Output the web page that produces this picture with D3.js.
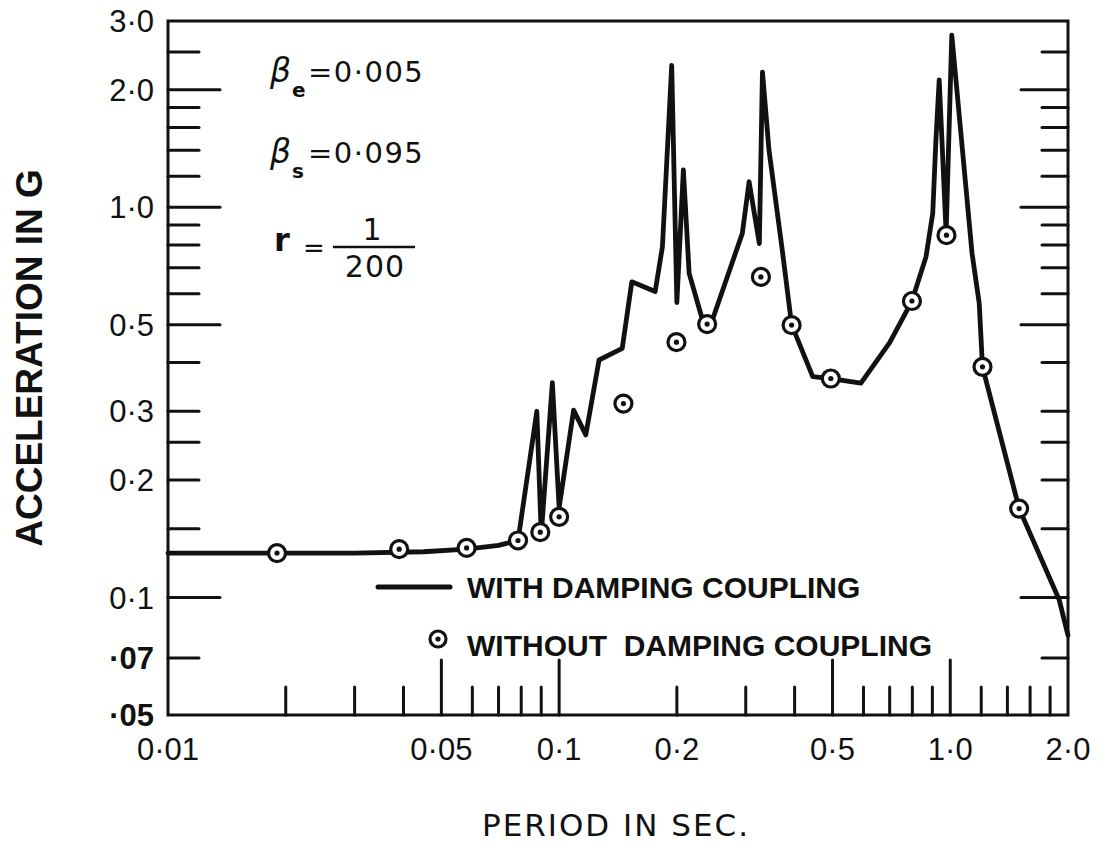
<!DOCTYPE html>
<html><head><meta charset="utf-8">
<script src="https://cdn.jsdelivr.net/npm/d3@7"></script>
<style>
html,body{margin:0;padding:0;background:#fff;}
svg{display:block;}
</style></head>
<body>
<svg id="chart" width="1107" height="854"></svg>
<script>
// ---- data ----
const withPeriod = [0.01,0.03,0.045,0.058,0.07,0.0785,0.0877,0.0900,0.0961,0.1000,0.1089,0.117,0.1265,0.145,0.1534,0.176,0.1837,0.194,0.2000,0.2078,0.215,0.2326,0.245,0.294,0.306,0.325,0.331,0.344,0.372,0.393,0.445,0.495,0.591,0.70,0.798,0.867,0.902,0.919,0.937,0.976,1.009,1.137,1.186,1.209,1.50,1.90,2.0];
const withAccel  = [0.130,0.130,0.131,0.133,0.136,0.140,0.300,0.145,0.355,0.170,0.302,0.261,0.406,0.435,0.644,0.608,0.792,2.31,0.570,1.246,0.677,0.514,0.505,0.857,1.162,0.807,2.22,1.40,0.776,0.500,0.368,0.364,0.354,0.45,0.575,0.747,0.964,1.486,2.12,0.86,2.76,0.761,0.567,0.390,0.169,0.0985,0.080];
const withoutPeriod = [0.019,0.039,0.058,0.0785,0.0895,0.100,0.146,0.1995,0.239,0.328,0.393,0.495,0.798,0.978,1.209,1.50];
const withoutAccel  = [0.130,0.133,0.134,0.140,0.147,0.161,0.314,0.451,0.502,0.663,0.499,0.364,0.575,0.848,0.390,0.169];

const xLabelValues = [0.01,0.05,0.1,0.2,0.5,1.0,2.0];
const xLabelTexts  = ["0·01","0·05","0·1","0·2","0·5","1·0","2·0"];
const xMajorTicks  = [0.05,0.1,0.5,1.0];
const xMinorTicks  = [0.02,0.03,0.04,0.06,0.07,0.08,0.09,0.2,0.3,0.4,0.6,0.7,0.8,0.9,1.2,1.4,1.6,1.8];

const yLabelValues = [3.0,2.0,1.0,0.5,0.3,0.2,0.1,0.07,0.05];
const yLabelTexts  = ["3·0","2·0","1·0","0·5","0·3","0·2","0·1","·07","·05"];
const yMajorTicks  = [0.1,0.5,1.0,2.0];
const yMinorTicks  = [0.07,0.15,0.2,0.25,0.3,0.4,0.6,0.7,0.8,0.9,1.2,1.4,1.6,1.8,2.5];

// ---- drawing ----
const svg = d3.select("#chart");
const x = d3.scaleLog().domain([0.01, 2.0]).range([168, 1068]);
const y = d3.scaleLog().domain([0.05, 3.0]).range([715, 21]);
const ink = "#111";

const x0 = x.range()[0], x1 = x.range()[1], y0 = y.range()[0], y1 = y.range()[1];

// frame
svg.append("rect").attr("x", x0).attr("y", y1).attr("width", x1 - x0).attr("height", y0 - y1)
  .attr("fill", "none").attr("stroke", ink).attr("stroke-width", 3);

const g = svg.append("g").attr("stroke", ink).attr("stroke-width", 3).attr("stroke-linecap", "round");
// x ticks (upward from bottom)
g.selectAll(".xmaj").data(xMajorTicks).join("line")
  .attr("x1", d => x(d)).attr("x2", d => x(d)).attr("y1", y0).attr("y2", y0 - 55);
g.selectAll(".xmin").data(xMinorTicks).join("line")
  .attr("x1", d => x(d)).attr("x2", d => x(d)).attr("y1", y0).attr("y2", y0 - 28);
// left y ticks
g.selectAll(".ylmaj").data(yMajorTicks).join("line")
  .attr("y1", d => y(d)).attr("y2", d => y(d)).attr("x1", x0).attr("x2", x0 + 52);
g.selectAll(".ylmin").data(yMinorTicks).join("line")
  .attr("y1", d => y(d)).attr("y2", d => y(d)).attr("x1", x0).attr("x2", x0 + 31);
// right y ticks
g.selectAll(".yrmaj").data(yMajorTicks).join("line")
  .attr("y1", d => y(d)).attr("y2", d => y(d)).attr("x1", x1).attr("x2", x1 - 47);
g.selectAll(".yrmin").data(yMinorTicks).join("line")
  .attr("y1", d => y(d)).attr("y2", d => y(d)).attr("x1", x1).attr("x2", x1 - 26);

// tick labels
svg.selectAll(".xl").data(xLabelValues).join("text")
  .attr("x", d => x(d)).attr("y", 760)
  .attr("text-anchor", "middle")
  .attr("font-family", "Liberation Sans, Arial, sans-serif").attr("font-size", 31)
  .attr("fill", ink)
  .text((d, i) => xLabelTexts[i]);
svg.selectAll(".yl").data(yLabelValues).join("text")
  .attr("x", 154).attr("y", d => y(d) + 11)
  .attr("text-anchor", "end")
  .attr("font-family", "Liberation Sans, Arial, sans-serif").attr("font-size", 31)
  .attr("fill", ink)
  .attr("font-weight", (d) => d < 0.1 ? "bold" : "normal")
  .text((d, i) => yLabelTexts[i]);

// axis titles
svg.append("text").attr("x", 616).attr("y", 836).attr("text-anchor", "middle")
  .attr("font-family", "DejaVu Sans, sans-serif").attr("font-size", 31).attr("letter-spacing", 2)
  .attr("fill", ink).text("PERIOD IN SEC.");
svg.append("text").attr("transform", "translate(42,358) rotate(-90)").attr("text-anchor", "middle")
  .attr("font-family", "Liberation Sans, Arial, sans-serif").attr("font-size", 37).attr("font-weight", "bold")
  .attr("fill", ink).text("ACCELERATION IN G");

// series: with damping coupling (line)
const withData = withPeriod.map((p, i) => [p, withAccel[i]]);
const line = d3.line().x(d => x(d[0])).y(d => y(d[1]));
svg.append("path").datum(withData).attr("d", line)
  .attr("fill", "none").attr("stroke", ink).attr("stroke-width", 4.8)
  .attr("stroke-linejoin", "round").attr("stroke-linecap", "round");

// series: without damping coupling (circled dots)
const withoutData = withoutPeriod.map((p, i) => [p, withoutAccel[i]]);
const mk = svg.selectAll(".mk").data(withoutData).join("g")
  .attr("transform", d => `translate(${x(d[0])},${y(d[1])})`);
mk.append("circle").attr("r", 8.5).attr("fill", "#fff").attr("stroke", ink).attr("stroke-width", 3.2);
mk.append("circle").attr("r", 2.6).attr("fill", ink);

// legend
svg.append("line").attr("x1", 378).attr("x2", 450).attr("y1", 587).attr("y2", 587)
  .attr("stroke", ink).attr("stroke-width", 5).attr("stroke-linecap", "round");
svg.append("text").attr("x", 467).attr("y", 598)
  .attr("font-family", "Liberation Sans, Arial, sans-serif").attr("font-size", 30).attr("font-weight", "bold")
  .attr("fill", ink).text("WITH DAMPING COUPLING");
const lm = svg.append("g").attr("transform", "translate(438,639)");
lm.append("circle").attr("r", 8).attr("fill", "#fff").attr("stroke", ink).attr("stroke-width", 3.2);
lm.append("circle").attr("r", 2.6).attr("fill", ink);
svg.append("text").attr("x", 467).attr("y", 656).attr("xml:space", "preserve")
  .style("white-space", "pre")
  .attr("font-family", "Liberation Sans, Arial, sans-serif").attr("font-size", 30).attr("font-weight", "bold")
  .attr("fill", ink).text("WITHOUT  DAMPING COUPLING");

// annotations
const af = "DejaVu Sans, sans-serif";
function beta(xp, yb, sub, rest) {
  svg.append("text").attr("x", xp).attr("y", yb).attr("font-family", af).attr("font-size", 33)
    .attr("font-style", "italic").attr("fill", ink).text("β");
  svg.append("text").attr("x", xp + 22).attr("y", yb + 15).attr("font-family", af).attr("font-size", 20)
    .attr("font-weight", "bold").attr("fill", ink).text(sub);
  svg.append("text").attr("x", xp + 38).attr("y", yb).attr("font-family", af).attr("font-size", 29)
    .attr("letter-spacing", 1.5).attr("fill", ink).text(rest);
}
beta(270, 82, "e", "=0·005");
beta(270, 163, "s", "=0·095");
svg.append("text").attr("x", 274).attr("y", 251).attr("font-family", af).attr("font-size", 32)
  .attr("font-weight", "bold").attr("fill", ink).text("r");
svg.append("text").attr("x", 303).attr("y", 257).attr("font-family", af).attr("font-size", 26)
  .attr("fill", ink).text("=");
svg.append("line").attr("x1", 333).attr("x2", 415).attr("y1", 247).attr("y2", 247)
  .attr("stroke", ink).attr("stroke-width", 2.5);
svg.append("text").attr("x", 372).attr("y", 240).attr("text-anchor", "middle").attr("font-family", af)
  .attr("font-size", 30).attr("fill", ink).text("1");
svg.append("text").attr("x", 375).attr("y", 277).attr("text-anchor", "middle").attr("font-family", af)
  .attr("font-size", 30).attr("letter-spacing", 1).attr("fill", ink).text("200");
</script>
</body></html>
